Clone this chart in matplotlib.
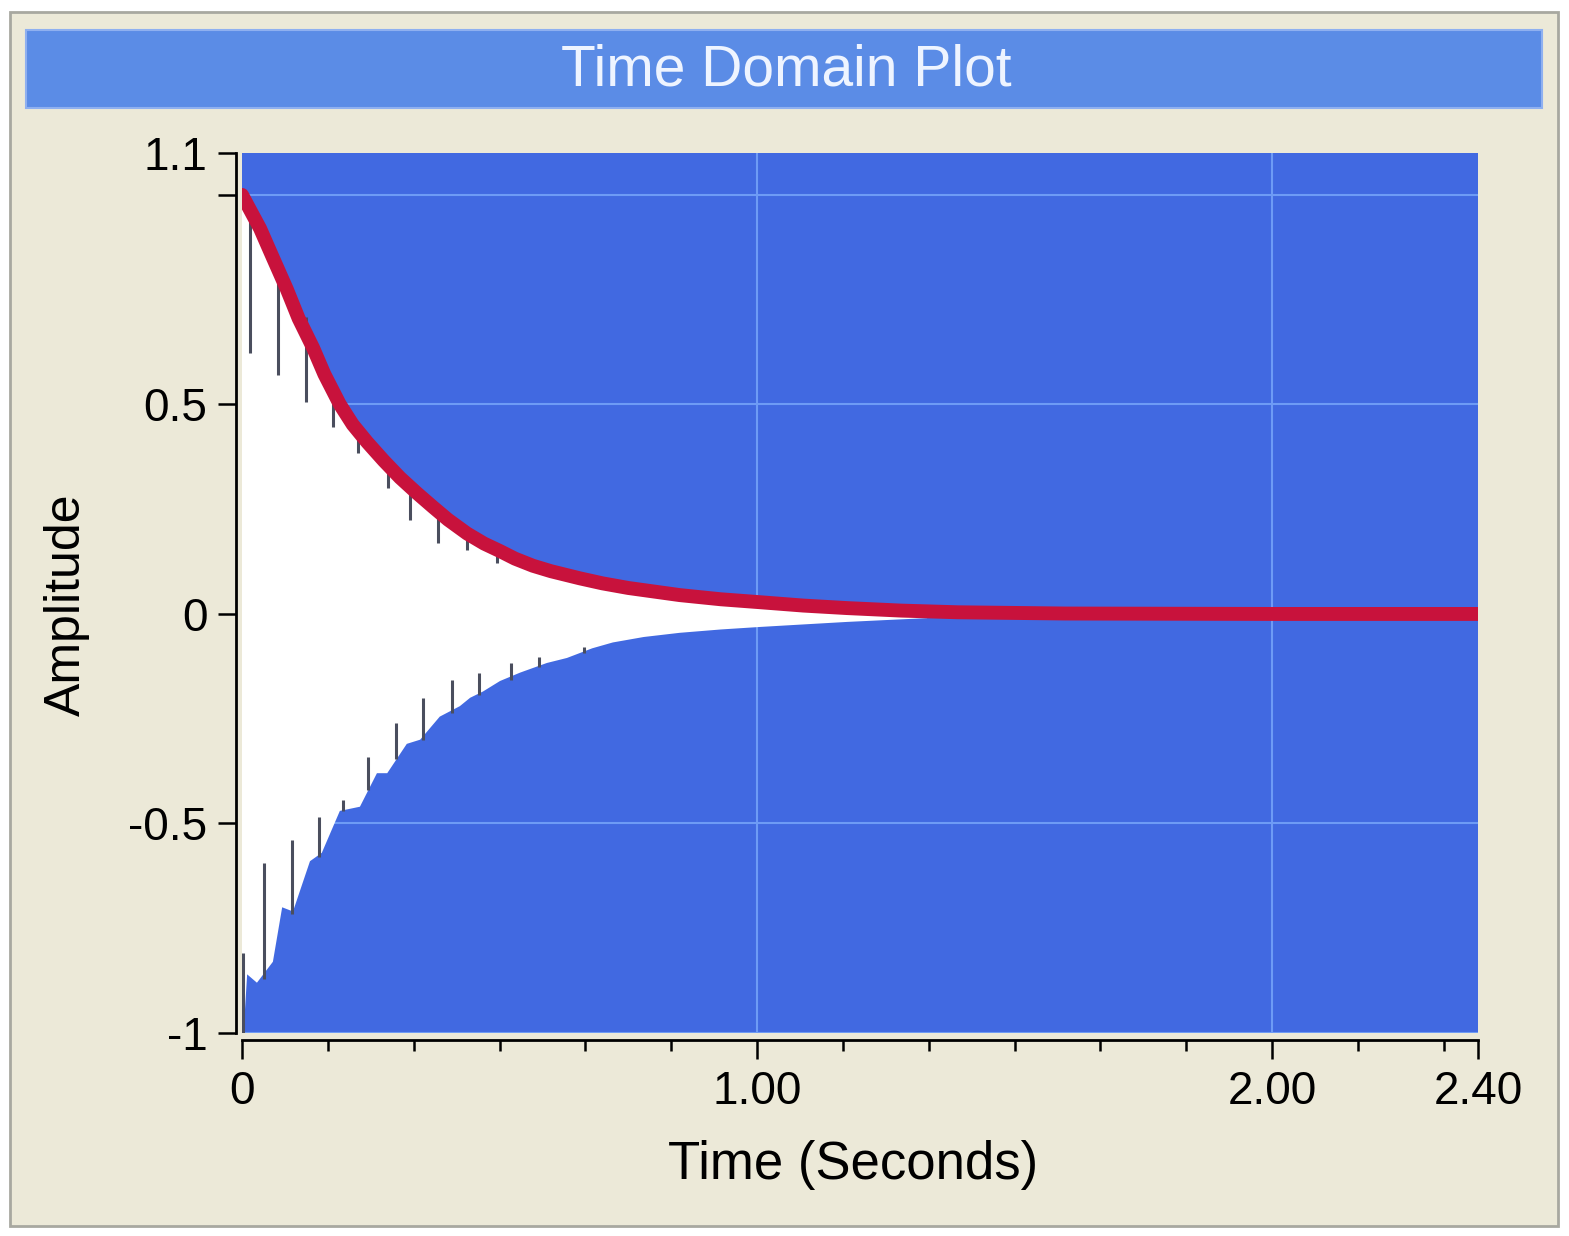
import numpy as np
import matplotlib
matplotlib.use("Agg")
import matplotlib.pyplot as plt
from matplotlib.patches import Rectangle

plt.rcParams['font.family'] = ['Liberation Sans', 'DejaVu Sans']

# ---- data ----
# red envelope line (time s, amplitude)
env_t = [0.000, 0.035, 0.060, 0.087, 0.110, 0.138, 0.160, 0.190, 0.215, 0.243,
         0.275, 0.307, 0.340, 0.371, 0.400, 0.437, 0.470, 0.501, 0.530, 0.565,
         0.600, 0.656, 0.700, 0.750, 0.850, 0.930, 1.006, 1.090, 1.175, 1.280,
         1.390, 1.600, 2.000, 2.400]
env_v = [1.000, 0.920, 0.850, 0.775, 0.705, 0.635, 0.572, 0.500, 0.452, 0.410,
         0.366, 0.325, 0.288, 0.255, 0.225, 0.192, 0.168, 0.150, 0.132, 0.115,
         0.102, 0.085, 0.073, 0.062, 0.045, 0.035, 0.028, 0.020, 0.014, 0.008,
         0.004, 0.001, 0.000, 0.000]

# lower boundary of the white (signal) region
low_t = [0.000, 0.004, 0.010, 0.029, 0.060, 0.078, 0.099, 0.132, 0.155, 0.190,
         0.229, 0.262, 0.282, 0.320, 0.346, 0.384, 0.423, 0.443, 0.468, 0.501,
         0.540, 0.592, 0.631, 0.680, 0.720, 0.780, 0.850, 0.930, 1.006, 1.090,
         1.175, 1.260, 1.330, 1.345]
low_v = [-1.000, -0.980, -0.860, -0.880, -0.830, -0.700, -0.710, -0.590, -0.570, -0.470,
         -0.460, -0.380, -0.380, -0.310, -0.300, -0.245, -0.220, -0.200, -0.185, -0.160,
         -0.140, -0.117, -0.105, -0.082, -0.068, -0.055, -0.045, -0.037, -0.031, -0.025,
         -0.019, -0.014, -0.010, 0.000]

# dark spikes hanging down from the upper envelope
up_spike_t = [0.016, 0.070, 0.124, 0.177, 0.225, 0.283, 0.326, 0.381, 0.437, 0.495, 0.550]
up_spike_top = [0.960, 0.838, 0.709, 0.520, 0.439, 0.351, 0.289, 0.241, 0.193, 0.153, 0.129]
up_spike_bot = [0.623, 0.570, 0.506, 0.446, 0.384, 0.301, 0.224, 0.169, 0.153, 0.122, 0.110]

# dark spikes rising from the lower envelope
lo_spike_t = [0.002, 0.043, 0.097, 0.150, 0.196, 0.245, 0.299, 0.351, 0.408, 0.460, 0.522, 0.577, 0.664]
lo_spike_bot = [-1.000, -0.870, -0.715, -0.580, -0.470, -0.420, -0.345, -0.300, -0.236, -0.193, -0.158, -0.126, -0.093]
lo_spike_top = [-0.810, -0.594, -0.539, -0.484, -0.444, -0.341, -0.260, -0.200, -0.158, -0.141, -0.117, -0.103, -0.079]

x_major = [0, 1.0, 2.0, 2.4]
x_major_labels = ['0', '1.00', '2.00', '2.40']
x_minor = [1/6, 2/6, 3/6, 4/6, 5/6, 7/6, 8/6, 9/6, 10/6, 11/6, 13/6, 14/6]
y_ticks = [-1.0, -0.5, 0.0, 0.5, 1.0, 1.1]
y_labels = ['-1', '-0.5', '0', '0.5', '', '1.1']

title = 'Time Domain Plot'
xlabel = 'Time (Seconds)'
ylabel = 'Amplitude'

# ---- figure ----
W, H = 1569, 1236
fig = plt.figure(figsize=(W / 100, H / 100), dpi=100, facecolor='white')

# outer beige panel
fig.patches.append(Rectangle((10 / W, 1 - 1226 / H), 1548 / W, 1214 / H,
                             transform=fig.transFigure, facecolor='#ECE9D8',
                             edgecolor='#A8A8A0', linewidth=2, zorder=-10))
# title bar
fig.patches.append(Rectangle((26 / W, 1 - 108 / H), 1516 / W, 78 / H,
                             transform=fig.transFigure, facecolor='#5B8CE6',
                             edgecolor='#8FB0F0', linewidth=1.5, zorder=-5))
fig.text(786 / W, 1 - 70 / H, title, ha='center', va='center',
         fontsize=41, color='#EEF4FF')

ax = fig.add_axes([242 / W, 1 - 1033 / H, (1478 - 242) / W, (1033 - 153) / H])
ax.set_zorder(1)
ax.set_facecolor('#4169E1')
ax.set_xlim(0, 2.4)
ax.set_ylim(-1, 1.1)

# grid
for yv in [-1.0, -0.5, 0.5, 1.0]:
    ax.axhline(yv, color='#6E9BF5', lw=1.5, zorder=0.5)
for xv in [1.0, 2.0]:
    ax.axvline(xv, color='#6E9BF5', lw=1.5, zorder=0.5)

# white signal region
n_up = sum(1 for t in env_t if t <= 1.39)
poly_t = list(env_t[:n_up]) + list(low_t[::-1])
poly_v = list(env_v[:n_up]) + list(low_v[::-1])
ax.fill(poly_t, poly_v, color='white', lw=0, zorder=1)

# spikes
ax.vlines(up_spike_t, up_spike_bot, up_spike_top, color='#4A4E5E', lw=2.2, zorder=2)
ax.vlines(lo_spike_t, lo_spike_bot, lo_spike_top, color='#4A4E5E', lw=2.2, zorder=2)

# red envelope
ax.plot(env_t, env_v, color='#C8123C', lw=10, solid_capstyle='round',
        solid_joinstyle='round', zorder=3)

# spines
for s in ['top', 'right']:
    ax.spines[s].set_visible(False)
ax.spines['left'].set_position(('outward', 4))
ax.spines['bottom'].set_position(('outward', 5))
ax.spines['left'].set_linewidth(2)
ax.spines['bottom'].set_linewidth(2)

ax.set_xticks(x_major)
ax.set_xticklabels(x_major_labels)
ax.set_xticks(x_minor, minor=True)
ax.set_yticks(y_ticks)
ax.set_yticklabels(y_labels)
ax.tick_params(axis='x', which='major', length=14, width=1.8, labelsize=33, pad=8)
ax.tick_params(axis='x', which='minor', length=8, width=1.8)
ax.tick_params(axis='y', which='major', length=13, width=1.8, labelsize=33, pad=8)

fig.text(853 / W, 1 - 1165 / H, xlabel, ha='center', va='center', fontsize=38)
fig.text(67 / W, 1 - 605 / H, ylabel, ha='center', va='center', fontsize=36,
         rotation=90)

fig.savefig('out.png', dpi=100, facecolor='white')
